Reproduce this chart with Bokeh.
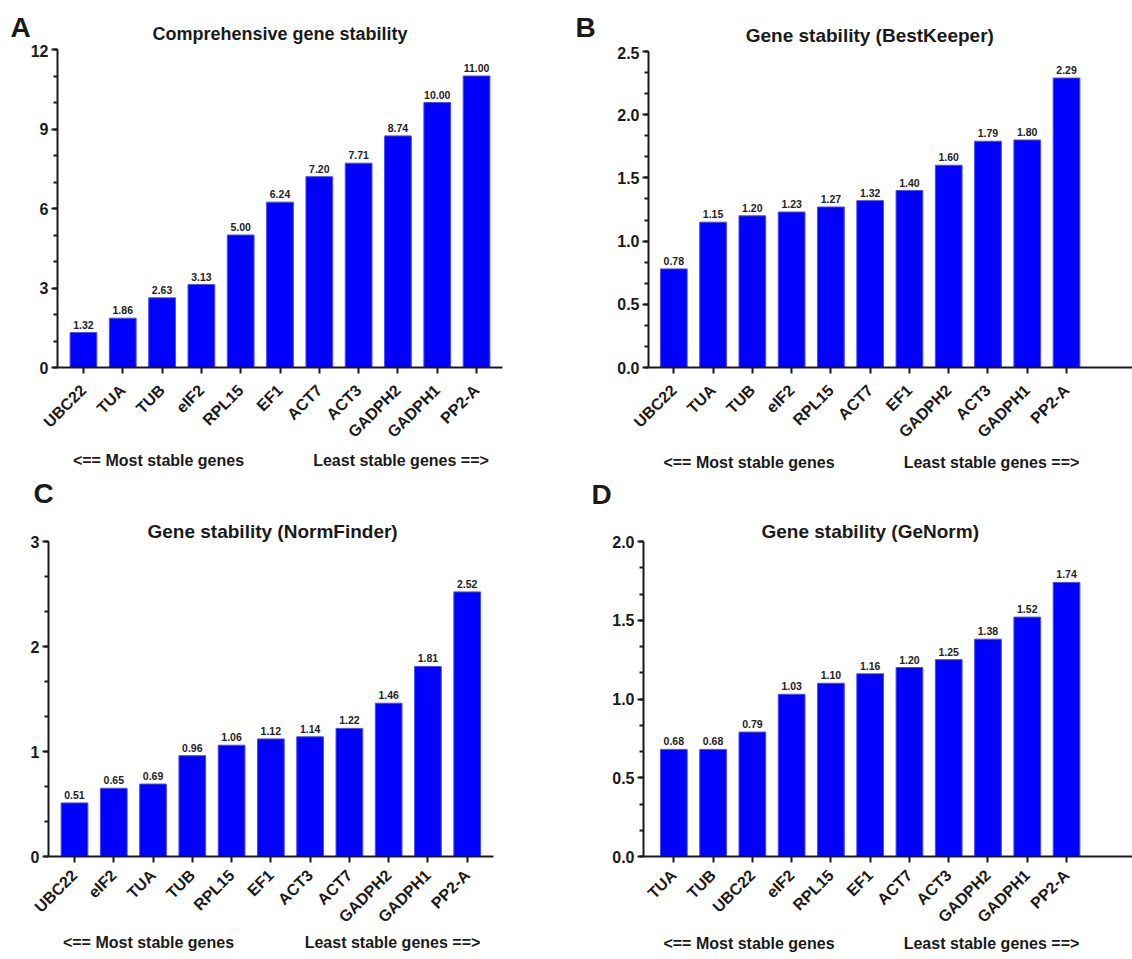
import math
from bokeh.plotting import figure
from bokeh.models import (Range1d, FixedTicker, SingleIntervalTicker, NumeralTickFormatter,
                          Label, LabelSet, ColumnDataSource)
from bokeh.layouts import column, row
from bokeh.core.properties import value
from bokeh.embed import file_html
from bokeh.resources import INLINE

# ---------------- data ----------------
genes_a = ["UBC22", "TUA", "TUB", "eIF2", "RPL15", "EF1", "ACT7", "ACT3", "GADPH2", "GADPH1", "PP2-A"]
vals_a = [1.32, 1.86, 2.63, 3.13, 5.00, 6.24, 7.20, 7.71, 8.74, 10.00, 11.00]

genes_b = ["UBC22", "TUA", "TUB", "eIF2", "RPL15", "ACT7", "EF1", "GADPH2", "ACT3", "GADPH1", "PP2-A"]
vals_b = [0.78, 1.15, 1.20, 1.23, 1.27, 1.32, 1.40, 1.60, 1.79, 1.80, 2.29]

genes_c = ["UBC22", "eIF2", "TUA", "TUB", "RPL15", "EF1", "ACT3", "ACT7", "GADPH2", "GADPH1", "PP2-A"]
vals_c = [0.51, 0.65, 0.69, 0.96, 1.06, 1.12, 1.14, 1.22, 1.46, 1.81, 2.52]

genes_d = ["TUA", "TUB", "UBC22", "eIF2", "RPL15", "EF1", "ACT7", "ACT3", "GADPH2", "GADPH1", "PP2-A"]
vals_d = [0.68, 0.68, 0.79, 1.03, 1.10, 1.16, 1.20, 1.25, 1.38, 1.52, 1.74]

titles = ["Comprehensive gene stability", "Gene stability (BestKeeper)",
          "Gene stability (NormFinder)", "Gene stability (GeNorm)"]
letters = ["A", "B", "C", "D"]
left_note = "<== Most stable genes"
right_note = "Least stable genes ==>"

FONT = "Liberation Sans"
INK = "#1a1a1a"


def text_strip(W, H, items):
    """A plain figure whose frame is the whole canvas; pixel coordinates = data coordinates."""
    s = figure(width=W, height=H, output_backend="svg", toolbar_location=None,
               x_range=Range1d(0, W), y_range=Range1d(H, 0),
               x_axis_type=None, y_axis_type=None, min_border=0, frame_align=False)
    s.outline_line_color = None
    s.background_fill_color = "white"
    s.border_fill_color = "white"
    for (x, y, txt, size) in items:
        s.add_layout(Label(x=x, y=y, text=txt, text_align="center", text_baseline="middle",
                           text_font=FONT, text_font_style="bold", text_font_size=size,
                           text_color=INK))
    return s


def chart(genes, vals, y_max, major, n_minor, fmt, W, H, left, right, top, bottom,
          x_lo, x_hi, standoff, title=None, title_offset=0):
    p = figure(width=W, height=H, output_backend="svg", toolbar_location=None,
               x_range=Range1d(x_lo, x_hi), y_range=Range1d(0, y_max),
               min_border_left=left, min_border_right=right,
               min_border_top=top, min_border_bottom=bottom, frame_align=False)
    p.outline_line_color = None
    p.xgrid.visible = False
    p.ygrid.visible = False
    p.background_fill_color = "white"
    p.border_fill_color = "white"
    if title is not None:
        p.title.text = title
        p.title.align = "left"
        p.title.offset = title_offset
        p.title.standoff = 0
        p.title.text_font = FONT
        p.title.text_font_style = "bold"
        p.title.text_font_size = "19px"
        p.title.text_color = INK

    xs = list(range(len(genes)))
    src = ColumnDataSource(dict(x=xs, top=vals, lab=["%.2f" % v for v in vals]))
    p.vbar(x="x", top="top", width=0.68, bottom=0, source=src,
           fill_color="#0000ff", line_color="#4a4aff", line_width=1)
    p.add_layout(LabelSet(x="x", y="top", text="lab", source=src, y_offset=4,
                          text_align="center", text_baseline="bottom",
                          text_font=value(FONT), text_font_style="bold",
                          text_font_size="10.5px", text_color="#222222"))

    for ax in (p.xaxis[0], p.yaxis[0]):
        ax.axis_line_width = 2
        ax.axis_line_color = INK
        ax.major_tick_line_width = 2
        ax.major_tick_line_color = INK
        ax.major_tick_in = 0
        ax.major_tick_out = 6
        ax.major_label_text_font = FONT
        ax.major_label_text_font_style = "bold"
        ax.major_label_text_font_size = "16px"
        ax.major_label_text_color = INK

    xa = p.xaxis[0]
    xa.ticker = FixedTicker(ticks=xs)
    xa.major_label_overrides = {i: g for i, g in enumerate(genes)}
    xa.major_label_orientation = math.pi / 4
    xa.minor_tick_line_color = None
    xa.major_label_standoff = standoff

    ya = p.yaxis[0]
    ya.ticker = SingleIntervalTicker(interval=major, num_minor_ticks=n_minor)
    ya.formatter = NumeralTickFormatter(format=fmt)
    ya.minor_tick_in = 0
    ya.minor_tick_out = 4
    ya.minor_tick_line_width = 2
    ya.minor_tick_line_color = INK
    ya.major_label_standoff = 3
    return p


W = 566
# ---- panel A (height 479 = 44 + 405 + 30)
hA = text_strip(W, 44, [(20, 26.5, letters[0], "28px"), (279.5, 33, titles[0], "18px")])
mA = chart(genes_a, vals_a, 12, 3, 3, "0", W, 405, 57, 64, 5, 81, -0.66, 10.66, 14)
fA = text_strip(W, 30, [(158, 11, left_note, "16px"), (400.5, 11, right_note, "16px")])

# ---- panel B (height 479 = 46 + 403 + 30)
hB = text_strip(W, 46, [(19, 26.5, letters[1], "28px"), (303.3, 35, titles[1], "19px")])
mB = chart(genes_b, vals_b, 2.5, 0.5, 3, "0.0", W, 403, 82, 0, 5, 81, -0.644, 11.68, 14)
fB = text_strip(W, 30, [(182.5, 13, left_note, "16px"), (425, 13, right_note, "16px")])

# ---- panel C (height 480 = 32 + 423 + 25)
hC = text_strip(W, 32, [(43, 14, letters[2], "28px")])
mC = chart(genes_c, vals_c, 3, 1, 3, "0", W, 423, 48, 73, 30, 77, -0.662, 10.67, 10,
           title=titles[2], title_offset=99)
fC = text_strip(W, 25, [(148, 8, left_note, "16px"), (392, 8, right_note, "16px")])

# ---- panel D (height 480 = 32 + 423 + 25)
hD = text_strip(W, 32, [(35, 14.5, letters[3], "28px")])
mD = chart(genes_d, vals_d, 2.0, 0.5, 3, "0.0", W, 423, 77, 0, 30, 76, -0.772, 11.68, 10,
           title=titles[3], title_offset=118)
fD = text_strip(W, 25, [(182.5, 8.5, left_note, "16px"), (425, 8.5, right_note, "16px")])

page = column(
    row(column(hA, mA, fA), column(hB, mB, fB)),
    row(column(hC, mC, fC), column(hD, mD, fD)),
)
open("out.html", "w").write(file_html(page, INLINE))
